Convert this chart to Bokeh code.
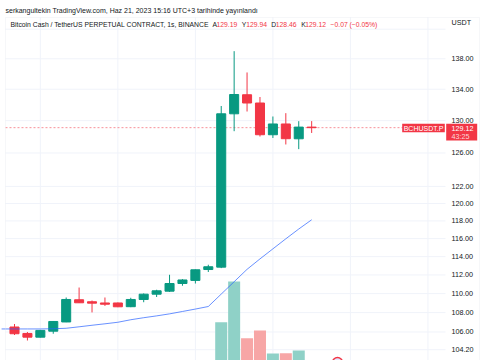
from bokeh.plotting import figure
from bokeh.models import (Range1d, LinearScale, Label, BoxAnnotation, ColumnDataSource)
from bokeh.core.properties import value
from bokeh.embed import file_html
from bokeh.resources import INLINE

# ---------------- data ----------------
idx = list(range(24))
opens = [106.51, 105.85, 105.47, 106.08, 107.03, 109.35, 109.14, 109.01, 109.01, 108.62,
         109.38, 109.94, 110.26, 111.08, 111.41, 112.59, 112.85, 130.86, 133.29, 132.23,
         128.24, 129.58, 127.74, 129.19]
highs = [106.82, 106.00, 106.21, 107.13, 109.59, 110.65, 109.27, 109.59, 109.06, 109.56,
         110.02, 110.41, 112.02, 111.55, 112.59, 113.11, 131.85, 139.02, 136.19, 133.00,
         130.52, 130.94, 129.93, 129.94]
lows = [105.69, 105.13, 105.44, 105.82, 107.01, 109.01, 108.02, 108.70, 108.57, 108.57,
        109.09, 109.64, 110.18, 110.84, 111.08, 112.32, 112.74, 128.68, 131.15, 128.02,
        127.84, 127.04, 126.47, 128.46]
closes = [105.82, 105.47, 106.16, 107.08, 109.38, 109.03, 108.99, 108.88, 108.61, 109.38,
          109.94, 110.30, 111.08, 111.46, 112.56, 112.89, 130.86, 133.32, 132.23, 128.24,
          129.58, 127.75, 129.19, 129.12]
volumes = [3.1, 2.4, 2.8, 4.2, 6.5, 5.1, 3.3, 2.2, 2.9, 3.6, 3.0, 2.7, 4.4, 3.2, 5.4, 3.9,
           46.3, 87.0, 30.3, 38.0, 15.0, 15.3, 18.0, 2.5]
ma_idx = list(range(-1, 24))
ma_vals = [106.31, 106.31, 106.31, 106.31, 106.33, 106.38, 106.53, 106.69, 106.84, 107.00,
           107.26, 107.47, 107.66, 107.87, 108.12, 108.37, 108.64, 109.95, 111.27, 112.61,
           113.75, 114.86, 115.98, 117.08, 118.13]
price_ticks = [104.2, 106, 108, 110, 112, 114, 116, 118, 120, 122, 126, 130, 134, 138]
grid_prices = price_ticks + [142]
time_grid = [2, 8, 14, 20, 26, 32]
event_idx = [25]
symbol = "BCHUSDT.P"
title_text = "Bitcoin Cash / TetherUS PERPETUAL CONTRACT, 1s, BINANCE"
header_text = "serkangultekin TradingView.com, Haz 21, 2023 15:16 UTC+3 tarihinde yayınlandı"
countdown = "43:25"
currency = "USDT"

# ---------------- layout (pixel / range constants) ----------------
W, H = 485, 360
X_START, X_END = -1.0836, 36.455      # canvas left/right edges in bar units
Y_START, Y_END = 103.12, 145.99       # canvas bottom/top in price (log scale)
X_PANE_L, X_PANE_R = -0.697, 33.36    # chart pane left / price-scale boundary
X_LABELS = 33.824                     # price-scale label column
Y_PANE_TOP = 143.62                   # chart pane top edge

GREEN = "#089981"
RED = "#f23645"
GREEN_V = "#8fd1c7"
RED_V = "#f7a6a6"
TXT = "#131722"
GRID = "#f0f3fa"
BORDER = "#e0e3eb"
FONT = "Liberation Sans"

up = [c >= o for o, c in zip(opens, closes)]
src = ColumnDataSource(dict(
    x=idx, o=opens, h=highs, l=lows, c=closes,
    top=[max(o, c) for o, c in zip(opens, closes)],
    bot=[min(o, c) for o, c in zip(opens, closes)],
    col=[GREEN if u else RED for u in up],
    vcol=[GREEN_V if u else RED_V for u in up],
    vol=volumes,
))

p = figure(width=W, height=H, output_backend="svg", toolbar_location=None,
           x_range=Range1d(X_START, X_END), y_range=Range1d(Y_START, Y_END),
           y_axis_type="log", x_axis_location=None, y_axis_location=None, title=None,
           min_border_top=0, min_border_bottom=0, min_border_left=0, min_border_right=0)
p.extra_y_ranges = {"vol": Range1d(8, 368)}
p.extra_y_scales = {"vol": LinearScale()}
p.background_fill_color = "white"
p.border_fill_color = "white"
p.outline_line_color = None
p.grid.visible = False

# grid lines (time & price) limited to the chart pane
p.segment(x0=time_grid, x1=time_grid, y0=[Y_START] * len(time_grid),
          y1=[Y_PANE_TOP] * len(time_grid), line_color=GRID, line_width=1)
p.segment(x0=[X_PANE_L] * len(grid_prices), x1=[X_PANE_R] * len(grid_prices),
          y0=grid_prices, y1=grid_prices, line_color=GRID, line_width=1)

# volume
p.vbar(x="x", width=0.93, top="vol", bottom=0, source=src, fill_color="vcol",
       line_color=None, y_range_name="vol")

# last price line
p.segment(x0=[X_PANE_L], x1=[X_PANE_R], y0=[closes[-1]], y1=[closes[-1]],
          line_color=RED, line_alpha=0.55, line_dash="2 2", line_width=1)

# candles
p.segment(x0="x", y0="l", x1="x", y1="h", source=src, line_color="col", line_width=1)
p.vbar(x="x", width=0.7, top="top", bottom="bot", source=src, fill_color="col",
       line_color="col", line_width=1)

# moving average
p.line(ma_idx, ma_vals, line_color="#2962ff", line_alpha=0.7, line_width=1)

# event marker
p.scatter(event_idx, [6], y_range_name="vol", marker="circle", size=10,
          fill_color="#dfe8ff", line_color=RED, line_width=1.5)

# price scale labels
p.text(x=[X_LABELS] * len(price_ticks), y=price_ticks,
       text=[f"{t:.2f}" for t in price_ticks], text_font=value(FONT),
       text_font_size=value("7.2px"), text_color=TXT, text_align="left",
       text_baseline="middle")

# widget border
p.add_layout(BoxAnnotation(left=5, right=479, top=343, bottom=-5,
                           left_units="screen", right_units="screen",
                           top_units="screen", bottom_units="screen",
                           fill_color=None, line_color=BORDER, line_width=1))

# price label boxes
p.add_layout(BoxAnnotation(left=401.7, right=444.3, top=236.7, bottom=228.3,
                           left_units="screen", right_units="screen",
                           top_units="screen", bottom_units="screen",
                           fill_color=RED, fill_alpha=1, line_color=None))
p.add_layout(BoxAnnotation(left=445.7, right=476.7, top=236.7, bottom=220,
                           left_units="screen", right_units="screen",
                           top_units="screen", bottom_units="screen",
                           fill_color=RED, fill_alpha=1, line_color=None))


def lab(x, y, text, color=TXT, size="7px", align="left", **kw):
    p.add_layout(Label(x=x, y=y, x_units="screen", y_units="screen", text=text,
                       text_color=color, text_font=FONT, text_font_size=size,
                       text_align=align, text_baseline="middle", **kw))


lab(423, 232.5, symbol, color="white", size="7px", align="center")
lab(451, 232.5, f"{closes[-1]:.2f}", color="white", size="7.2px")
lab(451, 224, countdown, color="#fcd6da", size="7.2px")

# header + legend
lab(5, 350.5, header_text, size="7px")
lab(10, 335.7, title_text, size="6.8px")
chg = closes[-1] - closes[-2]
pct = chg / closes[-2] * 100


def fmt(v):
    return f"{v:.2f}".replace("-", "\u2212")


items = [("A", opens[-1], 212, 216), ("Y", highs[-1], 241.3, 245.7),
         ("D", lows[-1], 270.7, 275.3), ("K", closes[-1], 300.7, 304.7)]
for k, v, xk, xv in items:
    lab(xk, 335.7, k, size="6.8px")
    lab(xv, 335.7, f"{v:.2f}", color=RED, size="6.8px")
lab(330, 335.7, f"{fmt(chg)} ({fmt(pct)}%)", color=RED, size="6.8px")

# currency label at the top of the price scale
lab(451, 337.7, currency, size="7.2px")

open("out.html", "w").write(file_html(p, INLINE))
